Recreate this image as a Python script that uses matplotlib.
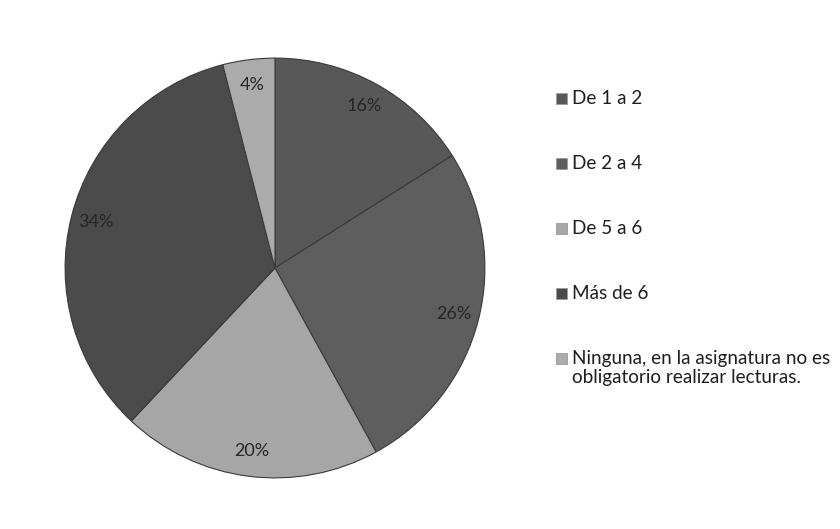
import matplotlib
matplotlib.use("Agg")
import matplotlib.pyplot as plt
from matplotlib.patches import Rectangle

categories = [
    "De 1 a 2",
    "De 2 a 4",
    "De 5 a 6",
    "Más de 6",
    "Ninguna, en la asignatura no es\nobligatorio realizar lecturas.",
]
values = [16, 26, 20, 34, 4]
colors = ["#585858", "#5e5e5e", "#a6a6a6", "#4b4b4b", "#ababab"]

plt.rcParams["font.family"] = ["Lato", "DejaVu Sans"]

fig = plt.figure(figsize=(8.4, 5.29), dpi=100)
W, H = 840, 529
cx, cy, r = 275, 529 - 268, 212
ax = fig.add_axes([(cx - r) / W, (cy - r) / H, 2 * r / W, 2 * r / H])

wedges, texts, autotexts = ax.pie(
    values,
    colors=colors,
    startangle=90,
    counterclock=False,
    autopct=lambda p: f"{p:.0f}%",
    pctdistance=0.88,
    radius=1,
    wedgeprops=dict(edgecolor="#3a3a3a", linewidth=0.8),
    textprops=dict(fontsize=13, color="#262626"),
)
ax.set_xlim(-1.01, 1.01)
ax.set_ylim(-1.01, 1.01)
ax.set_aspect("equal")
ax.axis("off")

# Legend: one square swatch per slice, label to its right
row0, step, box = 98, 65, 11
for i, (lab, col) in enumerate(zip(categories, colors)):
    yc = row0 + i * step
    fig.add_artist(Rectangle((556 / W, 1 - (yc + box / 2) / H), box / W, box / H,
                             transform=fig.transFigure, facecolor=col,
                             edgecolor="#9a9a9a", linewidth=0.6))
    fig.text(572 / W, 1 - (yc - 8) / H, lab, ha="left", va="top",
             fontsize=13.6, color="#1e1e1e", linespacing=1.12)

fig.savefig("out.png", dpi=100, facecolor="white")
